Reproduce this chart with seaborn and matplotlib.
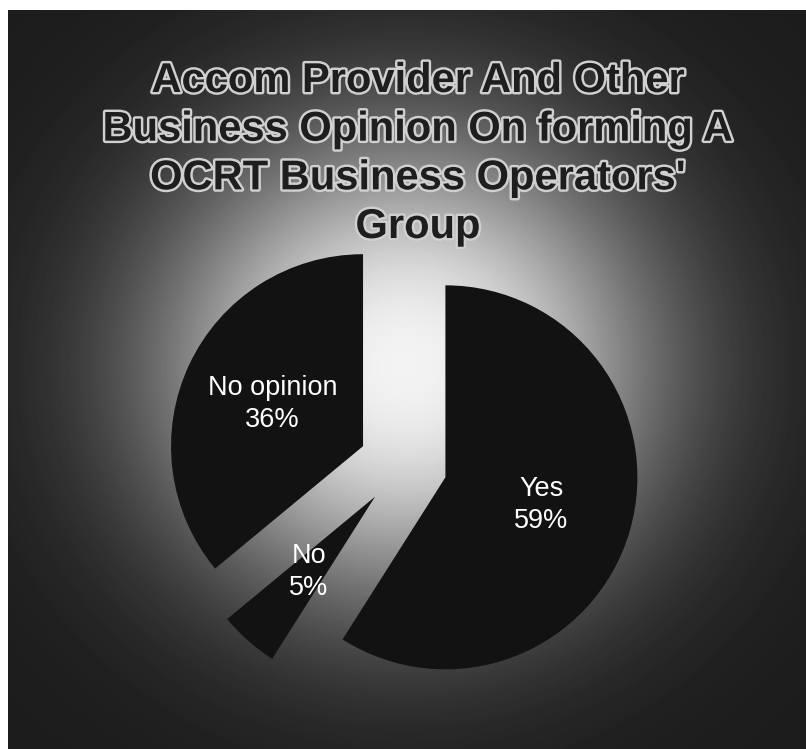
import numpy as np
import matplotlib
matplotlib.use("Agg")
import matplotlib.pyplot as plt
import matplotlib.patheffects as pe
import seaborn as sns

# Survey responses
categories = ["Yes", "No", "No opinion"]
shares = [59, 5, 36]

title_lines = [
    "Accom Provider And Other",
    "Business Opinion On forming A",
    "OCRT Business Operators'",
    "Group",
]

sns.set_theme(style="white")
plt.rcParams["font.family"] = ["Liberation Sans", "DejaVu Sans"]

W, H = 806, 749
fig = plt.figure(figsize=(W / 100, H / 100), dpi=100)
fig.patch.set_facecolor("white")

# Dark panel with a soft radial glow behind the pie
px0, py0 = 8, 10
bw, bh = W - px0, H - py0
ax_bg = fig.add_axes([px0 / W, 0, bw / W, bh / H])
yy, xx = np.mgrid[0:bh, 0:bw]
cx, cy = 405 - px0, 365 - py0
d2 = ((xx - cx) / 250.0) ** 2 + ((yy - cy) / 235.0) ** 2
glow = np.exp(-d2 ** 1.15)
dark, bright = 0.11, 0.95
img = dark + (bright - dark) * glow
ax_bg.imshow(img, cmap="gray", vmin=0, vmax=1, aspect="auto",
             interpolation="bilinear")
ax_bg.set_axis_off()

# Pie chart
ax = fig.add_axes([0, 0, 1, 1])
ax.patch.set_alpha(0)
labels = [f"{c}\n{v}%" for c, v in zip(categories, shares)]
wedges, texts = ax.pie(
    shares,
    labels=labels,
    startangle=90,
    counterclock=False,
    explode=[0.23, 0.22, 0.23],
    colors=["#121212"] * 3,
    labeldistance=0.52,
    wedgeprops=dict(linewidth=0),
    textprops=dict(color="white", fontsize=19.5),
)
for t in texts:
    t.set_ha("center")
    t.set_va("center")
    t.set_multialignment("center")
    t.set_linespacing(1.3)

# Map data units to pixels: radius 1 -> 192 px, pie centre at (403, 465)
r_px = 192.0
pcx, pcy = 403.0, 465.0
ax.set_xlim(-pcx / r_px, (W - pcx) / r_px)
ax.set_ylim(-(H - pcy) / r_px, pcy / r_px)
ax.set_aspect("auto")
ax.set_axis_off()

fig.text(
    418 / W, 1 - 61 / H, "\n".join(title_lines),
    ha="center", va="top", fontsize=30, fontweight="bold",
    color="#1e1e1e", linespacing=1.28,
    path_effects=[pe.withStroke(linewidth=3.5, foreground="#d0d0d0")],
)

fig.savefig("out.png", dpi=100, facecolor=fig.get_facecolor())
